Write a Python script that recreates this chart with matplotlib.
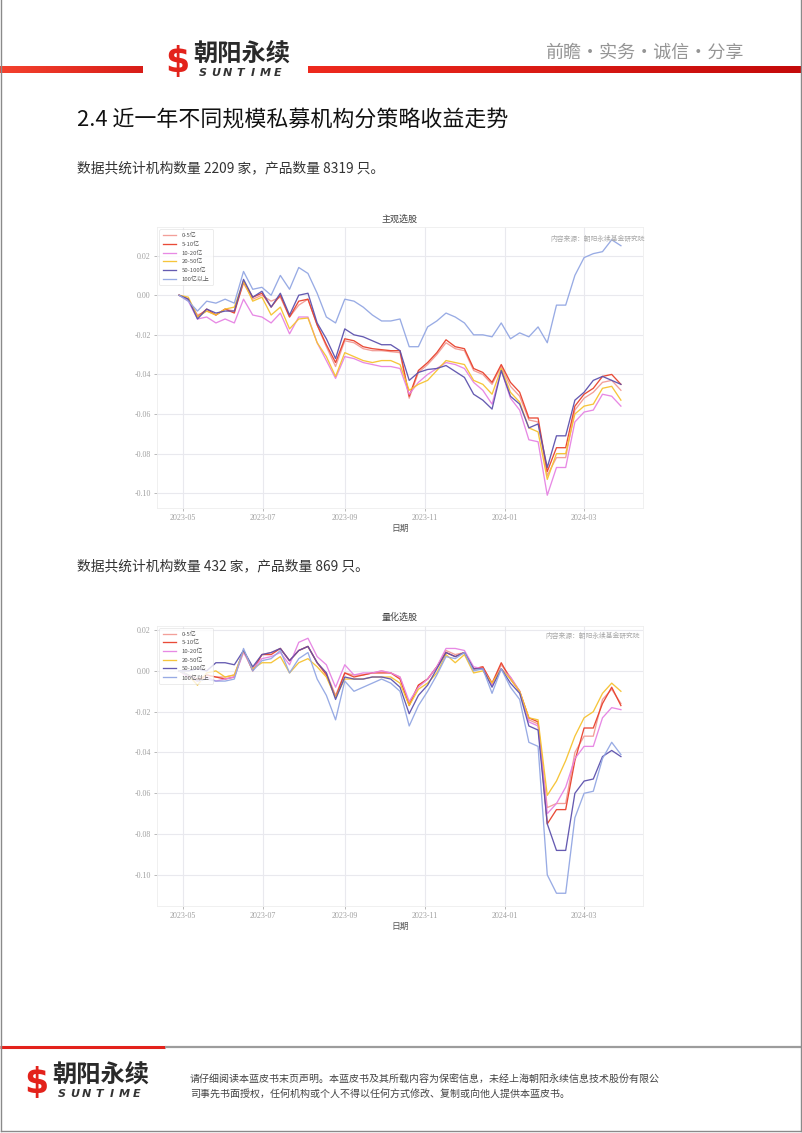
import numpy as np
import pandas as pd
import matplotlib
matplotlib.use('Agg')
import matplotlib.pyplot as plt
import matplotlib.dates as mdates
from matplotlib.colors import LinearSegmentedColormap
from matplotlib.ticker import FormatStrFormatter

plt.rcParams['font.family'] = ['Noto Sans CJK SC', 'DejaVu Sans']
plt.rcParams['axes.unicode_minus'] = False

# ---------------- data ----------------
dates = pd.date_range('2023-04-28', periods=49, freq='7D')
labels = ['0-5亿', '5-10亿', '10-20亿', '20-50亿', '50-100亿', '100亿以上']
colors = ['#f29a94', '#e8412c', '#e683e3', '#f6c230', '#5d52ad', '#93a7e3']

# 主观选股
subj_0_5 = [0, -0.002, -0.010, -0.008, -0.010, -0.007, -0.008, 0.006, -0.002, 0.000, -0.003, -0.001, -0.011,
            -0.005, -0.002, -0.015, -0.026, -0.036, -0.023, -0.024, -0.027, -0.028, -0.028, -0.0285, -0.029,
            -0.052, -0.039, -0.035, -0.030, -0.024, -0.027, -0.028, -0.038, -0.040, -0.045, -0.036, -0.046,
            -0.051, -0.063, -0.064, -0.091, -0.082, -0.082, -0.058, -0.052, -0.049, -0.044, -0.043, -0.048]
subj_5_10 = [0, -0.002, -0.011, -0.007, -0.010, -0.007, -0.009, 0.007, -0.001, 0.001, -0.006, 0.000, -0.011,
             -0.003, -0.002, -0.015, -0.025, -0.034, -0.022, -0.023, -0.026, -0.027, -0.0275, -0.028, -0.028,
             -0.051, -0.038, -0.034, -0.029, -0.0225, -0.026, -0.027, -0.037, -0.039, -0.044, -0.035, -0.044,
             -0.049, -0.062, -0.062, -0.089, -0.077, -0.077, -0.056, -0.050, -0.047, -0.041, -0.040, -0.045]
subj_10_20 = [0, -0.003, -0.012, -0.011, -0.014, -0.012, -0.014, -0.002, -0.010, -0.011, -0.014, -0.009, -0.0195,
              -0.011, -0.011, -0.024, -0.033, -0.042, -0.031, -0.032, -0.034, -0.035, -0.036, -0.036, -0.037,
              -0.050, -0.044, -0.040, -0.037, -0.034, -0.035, -0.037, -0.044, -0.048, -0.055, -0.038, -0.052,
              -0.058, -0.073, -0.074, -0.101, -0.087, -0.087, -0.064, -0.059, -0.058, -0.050, -0.051, -0.056]
subj_20_50 = [0, -0.001, -0.011, -0.008, -0.010, -0.007, -0.006, 0.007, -0.003, -0.001, -0.010, -0.006, -0.017,
              -0.012, -0.0115, -0.024, -0.031, -0.041, -0.029, -0.031, -0.033, -0.034, -0.033, -0.033, -0.035,
              -0.048, -0.045, -0.043, -0.038, -0.033, -0.034, -0.035, -0.043, -0.045, -0.050, -0.037, -0.049,
              -0.054, -0.067, -0.069, -0.093, -0.080, -0.080, -0.060, -0.056, -0.055, -0.047, -0.046, -0.053]
subj_50_100 = [0, -0.002, -0.012, -0.007, -0.009, -0.008, -0.008, 0.008, -0.001, 0.002, -0.006, 0.001, -0.010,
               0.000, 0.001, -0.014, -0.022, -0.032, -0.017, -0.020, -0.021, -0.023, -0.025, -0.025, -0.028,
               -0.043, -0.039, -0.0375, -0.037, -0.0355, -0.0385, -0.0415, -0.050, -0.053, -0.0575, -0.038, -0.051,
               -0.055, -0.067, -0.065, -0.087, -0.071, -0.071, -0.053, -0.049, -0.043, -0.041, -0.043, -0.045]
subj_100p = [0, -0.003, -0.008, -0.003, -0.004, -0.002, -0.004, 0.012, 0.003, 0.004, 0.000, 0.010, 0.003,
             0.014, 0.011, 0.001, -0.011, -0.014, -0.002, -0.003, -0.006, -0.010, -0.013, -0.013, -0.012,
             -0.026, -0.026, -0.016, -0.013, -0.009, -0.011, -0.014, -0.020, -0.020, -0.021, -0.014, -0.022,
             -0.019, -0.021, -0.016, -0.024, -0.005, -0.005, 0.010, 0.019, 0.021, 0.022, 0.028, 0.025]

# 量化选股
quant_0_5 = [0, -0.002, -0.004, -0.002, -0.003, -0.003, -0.002, 0.010, 0.001, 0.008, 0.009, 0.011, 0.005,
             0.010, 0.012, 0.004, -0.001, -0.012, -0.001, -0.002, -0.002, -0.001, 0.000, -0.001, -0.003,
             -0.016, -0.007, -0.004, 0.002, 0.010, 0.008, 0.009, 0.001, 0.002, -0.007, 0.003, -0.003,
             -0.010, -0.024, -0.026, -0.067, -0.065, -0.065, -0.040, -0.032, -0.032, -0.014, -0.009, -0.016]
quant_5_10 = [0, -0.002, -0.005, -0.002, -0.003, -0.004, -0.003, 0.010, 0.000, 0.008, 0.008, 0.011, 0.005,
              0.010, 0.012, 0.004, -0.002, -0.013, -0.001, -0.003, -0.002, -0.001, -0.001, -0.001, -0.004,
              -0.017, -0.007, -0.004, 0.002, 0.009, 0.007, 0.009, 0.001, 0.002, -0.006, 0.004, -0.004,
              -0.010, -0.023, -0.025, -0.075, -0.068, -0.068, -0.044, -0.028, -0.028, -0.016, -0.008, -0.017]
quant_10_20 = [0, -0.003, -0.005, -0.003, -0.005, -0.004, -0.003, 0.009, 0.001, 0.006, 0.007, 0.009, 0.003,
               0.014, 0.016, 0.007, 0.003, -0.008, 0.003, -0.002, -0.001, -0.001, 0.000, -0.001, -0.003,
               -0.015, -0.008, -0.004, 0.002, 0.011, 0.011, 0.010, 0.002, 0.001, -0.007, 0.001, -0.003,
               -0.010, -0.025, -0.027, -0.070, -0.065, -0.057, -0.043, -0.037, -0.037, -0.023, -0.018, -0.019]
quant_20_50 = [0, -0.002, -0.007, -0.001, 0.000, -0.003, -0.002, 0.010, 0.001, 0.004, 0.004, 0.007, -0.001,
               0.004, 0.006, 0.002, -0.003, -0.013, -0.004, -0.004, -0.004, -0.003, -0.003, -0.003, -0.006,
               -0.017, -0.009, -0.006, -0.001, 0.008, 0.004, 0.008, -0.001, 0.000, -0.006, 0.001, -0.004,
               -0.010, -0.023, -0.024, -0.061, -0.054, -0.044, -0.032, -0.023, -0.020, -0.011, -0.006, -0.010]
quant_50_100 = [0, 0.000, 0.001, 0.000, 0.004, 0.004, 0.003, 0.010, 0.002, 0.008, 0.009, 0.011, 0.005,
                0.010, 0.012, 0.004, -0.001, -0.014, -0.003, -0.004, -0.004, -0.003, -0.003, -0.004, -0.008,
                -0.021, -0.012, -0.007, 0.001, 0.009, 0.007, 0.009, 0.001, 0.001, -0.008, 0.001, -0.006,
                -0.011, -0.027, -0.029, -0.075, -0.088, -0.088, -0.060, -0.054, -0.053, -0.042, -0.039, -0.042]
quant_100p = [0, -0.002, -0.005, -0.004, -0.005, -0.005, -0.004, 0.011, 0.000, 0.005, 0.006, 0.010, -0.001,
              0.006, 0.009, -0.004, -0.012, -0.024, -0.005, -0.010, -0.008, -0.006, -0.004, -0.006, -0.010,
              -0.027, -0.017, -0.010, -0.002, 0.007, 0.006, 0.009, 0.000, 0.001, -0.011, 0.001, -0.008,
              -0.014, -0.035, -0.037, -0.100, -0.109, -0.109, -0.072, -0.060, -0.059, -0.043, -0.035, -0.041]

subj_series = [subj_0_5, subj_5_10, subj_10_20, subj_20_50, subj_50_100, subj_100p]
quant_series = [quant_0_5, quant_5_10, quant_10_20, quant_20_50, quant_50_100, quant_100p]

# ---------------- page ----------------
W, H = 802, 1133
fig = plt.figure(figsize=(W / 100, H / 100), dpi=100)
bg = fig.add_axes([0, 0, 1, 1], zorder=0)
bg.set_axis_off()


def grad_bar(x0, x1, y0, y1, c0, c1):
    cmap = LinearSegmentedColormap.from_list('g', [c0, c1])
    bg.imshow(np.linspace(0, 1, 256)[None, :], extent=(x0, x1, y1, y0), cmap=cmap,
              aspect='auto', zorder=1, interpolation='bilinear')


# header bars
grad_bar(0, 143, 66, 73, '#f4422e', '#d81d18')
grad_bar(308, 802, 66, 73, '#ee2a1e', '#c40a0a')


def logo(x, y, s):
    bg.text(x, y, '$', fontsize=25 * s, fontweight='heavy', color='#e3221b', family='DejaVu Sans',
            ha='left', va='center', zorder=3)
    bg.text(x + 28 * s, y - 7 * s, '朝阳永续', fontsize=17.5 * s, fontweight='bold', color='#2a2a2a',
            ha='left', va='center', zorder=3)
    for k, ch in enumerate('SUNTIME'):
        bg.text(x + 38 * s + k * 12.4 * s, y + 11 * s, ch, fontsize=8 * s, fontweight='bold',
                style='italic', color='#333333', family='DejaVu Sans', ha='center', va='center', zorder=3)


logo(165, 62, 1.0)
bg.text(644, 53, '前瞻·实务·诚信·分享', fontsize=13, color='#959595', ha='center', va='center', zorder=3)

# title & texts
bg.text(77, 120, '2.4 近一年不同规模私募机构分策略收益走势', fontsize=15.8, color='#111111',
        ha='left', va='center')
bg.text(77, 168, '数据共统计机构数量 2209 家，产品数量 8319 只。', fontsize=9.9, color='#333333',
        ha='left', va='center')
bg.text(77, 566, '数据共统计机构数量 432 家，产品数量 869 只。', fontsize=9.9, color='#333333',
        ha='left', va='center')

# footer
bg.plot([0, 165], [1046.5, 1046.5], color='#e3221b', lw=2.2, solid_capstyle='butt')
bg.plot([165, 802], [1046.5, 1046.5], color='#9c9c9c', lw=1.6, solid_capstyle='butt')
logo(24, 1083, 1.0)
bg.text(190, 1079, '请仔细阅读本蓝皮书末页声明。本蓝皮书及其所载内容为保密信息，未经上海朝阳永续信息技术股份有限公',
        fontsize=7.2, color='#444444', ha='left', va='center')
bg.text(190, 1094, '司事先书面授权，任何机构或个人不得以任何方式修改、复制或向他人提供本蓝皮书。',
        fontsize=7.2, color='#444444', ha='left', va='center')

# page frame
bg.plot([1, 1], [0, 1131], color='#8a8a8a', lw=1)
bg.plot([800.5, 800.5], [0, 1131], color='#8a8a8a', lw=1)
bg.plot([1, 800.5], [1131, 1131], color='#8a8a8a', lw=1)

bg.set_xlim(0, W)
bg.set_ylim(H, 0)


# ---------------- charts ----------------
def make_chart(top, bottom, series, title, wm_right, wm_y):
    left, right = 157, 643
    ax = fig.add_axes([left / W, 1 - bottom / H, (right - left) / W, (bottom - top) / H], zorder=2)
    ax.set_facecolor('white')
    for s, lab, c in zip(series, labels, colors):
        ax.plot(dates, s, color=c, lw=0.95, label=lab, alpha=0.95)
    ax.grid(True, color='#e9e9ee', lw=0.8)
    ax.set_axisbelow(True)
    for sp in ax.spines.values():
        sp.set_color('#eeeeee')
        sp.set_linewidth(0.6)
    ax.xaxis.set_major_locator(mdates.MonthLocator(bymonth=[1, 3, 5, 7, 9, 11]))
    ax.xaxis.set_major_formatter(mdates.DateFormatter('%Y-%m'))
    ax.yaxis.set_major_formatter(FormatStrFormatter('%.2f'))
    ax.set_yticks([0.02, 0.0, -0.02, -0.04, -0.06, -0.08, -0.10])
    ax.tick_params(axis='both', labelsize=5.8, colors='#a0a0a0', length=2.5, width=0.5, pad=2)
    for t in ax.get_xticklabels() + ax.get_yticklabels():
        t.set_family('Liberation Serif')
    ax.set_xlabel('日期', fontsize=6.3, color='#555555', labelpad=1)
    ax.set_title(title, fontsize=6.5, color='#444444', pad=4)
    leg = ax.legend(loc='upper left', fontsize=4.3, labelspacing=0.55, handlelength=2.2,
                    handletextpad=0.9, borderpad=0.6, frameon=True, fancybox=True,
                    borderaxespad=0.4)
    leg.get_frame().set_edgecolor('#dddddd')
    leg.get_frame().set_linewidth(0.5)
    for t in leg.get_texts():
        t.set_color('#555555')
    fig.text(wm_right / W, 1 - wm_y / H, '内容来源：朝阳永续基金研究院', fontsize=4.9, color='#a8a8a8',
             ha='right', va='center', zorder=10)
    return ax


ax1 = make_chart(227, 508, subj_series, '主观选股', 645, 239)
ax2 = make_chart(625.5, 906, quant_series, '量化选股', 640, 636)

fig.savefig('out.png', dpi=100)
